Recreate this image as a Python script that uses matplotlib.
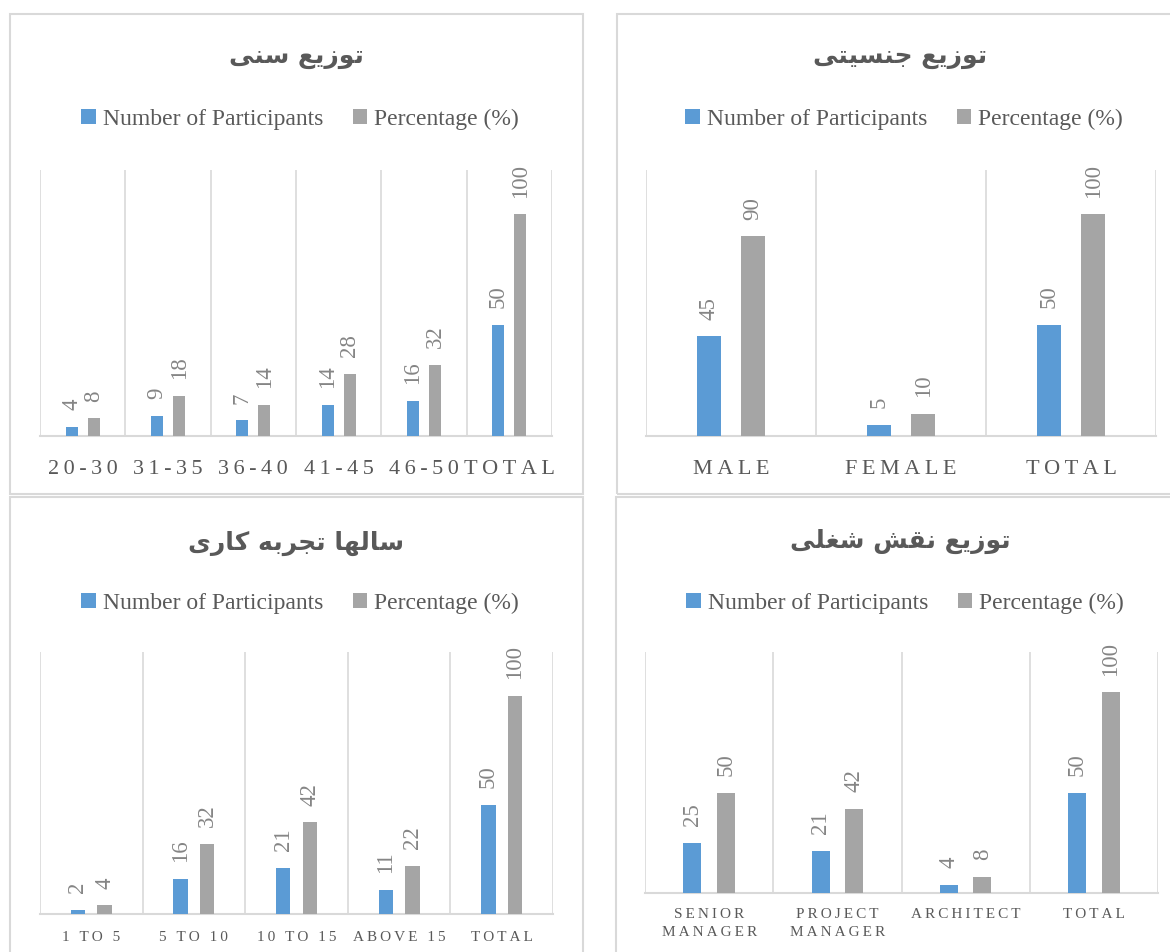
import matplotlib
matplotlib.use("Agg")
import matplotlib.pyplot as plt
from matplotlib.patches import Rectangle, Patch
import numpy as np

# ---------------- data ----------------
age_categories = ['20-30', '31-35', '36-40', '41-45', '46-50', 'TOTAL']
age_counts = [4, 9, 7, 14, 16, 50]
age_pct = [8, 18, 14, 28, 32, 100]

gender_categories = ['MALE', 'FEMALE', 'TOTAL']
gender_counts = [45, 5, 50]
gender_pct = [90, 10, 100]

exp_categories = ['1 TO 5', '5 TO 10', '10 TO 15', 'ABOVE 15', 'TOTAL']
exp_counts = [2, 16, 21, 11, 50]
exp_pct = [4, 32, 42, 22, 100]

role_categories = ['SENIOR\nMANAGER', 'PROJECT\nMANAGER', 'ARCHITECT', 'TOTAL']
role_counts = [25, 21, 4, 50]
role_pct = [50, 42, 8, 100]

title_age = 'توزیع سنی'
title_gender = 'توزیع جنسیتی'
title_exp = 'سالها تجربه کاری'
title_role = 'توزیع نقش شغلی'

series_names = ['Number of Participants', 'Percentage (%)']

# ---------------- simple Persian shaping ----------------
FORMS = {
    'ا': ('\uFE8D', '\uFE8E', None, None),
    'ب': ('\uFE8F', '\uFE90', '\uFE91', '\uFE92'),
    'ت': ('\uFE95', '\uFE96', '\uFE97', '\uFE98'),
    'ج': ('\uFE9D', '\uFE9E', '\uFE9F', '\uFEA0'),
    'ر': ('\uFEAD', '\uFEAE', None, None),
    'ز': ('\uFEAF', '\uFEB0', None, None),
    'س': ('\uFEB1', '\uFEB2', '\uFEB3', '\uFEB4'),
    'ش': ('\uFEB5', '\uFEB6', '\uFEB7', '\uFEB8'),
    'ع': ('\uFEC9', '\uFECA', '\uFECB', '\uFECC'),
    'غ': ('\uFECD', '\uFECE', '\uFECF', '\uFED0'),
    'ق': ('\uFED5', '\uFED6', '\uFED7', '\uFED8'),
    'ل': ('\uFEDD', '\uFEDE', '\uFEDF', '\uFEE0'),
    'ن': ('\uFEE5', '\uFEE6', '\uFEE7', '\uFEE8'),
    'ه': ('\uFEE9', '\uFEEA', '\uFEEB', '\uFEEC'),
    'و': ('\uFEED', '\uFEEE', None, None),
    'ی': ('\uFBFC', '\uFBFD', '\uFBFE', '\uFBFF'),
    'ک': ('\uFB8E', '\uFB8F', '\uFB90', '\uFB91'),
}


def shape(text):
    out = []
    n = len(text)
    for i, ch in enumerate(text):
        if ch not in FORMS:
            out.append(ch)
            continue
        iso, fin, ini, med = FORMS[ch]
        prev = text[i - 1] if i > 0 else None
        nxt = text[i + 1] if i < n - 1 else None
        join_prev = prev in FORMS and FORMS[prev][2] is not None
        join_next = ini is not None and nxt in FORMS
        if join_prev and join_next:
            g = med
        elif join_prev:
            g = fin
        elif join_next:
            g = ini
        else:
            g = iso
        out.append(g)
    return ''.join(out[::-1])


def spaced(s, sep='\u2009'):
    return '\n'.join(sep.join(list(line)) for line in s.split('\n'))


# ---------------- style ----------------
W, H = 1170, 952
BLUE = '#5B9BD5'
GRAY = '#A5A5A5'
GRID = '#D9D9D9'
TXT = '#595959'
LBL = '#858585'
SERIF = 'Liberation Serif'

fig = plt.figure(figsize=(W / 100, H / 100), dpi=100)


def fx(x):
    return x / W


def fy(y):
    return 1 - y / H


def panel_box(x0, y0, x1, y1):
    r = Rectangle((fx(x0), fy(y1)), fx(x1) - fx(x0), fy(y0) - fy(y1),
                  transform=fig.transFigure, fill=False, edgecolor=GRID,
                  linewidth=1.5, zorder=0)
    fig.add_artist(r)


def make_panel(ax_px, cats, counts, pct, title, title_xy, legend_xy,
               cat_fs, cat_pad, val_fs=16.5):
    x0, y0, x1, y1 = ax_px
    ax = fig.add_axes([fx(x0), fy(y1), fx(x1) - fx(x0), fy(y0) - fy(y1)])
    n = len(cats)
    x = np.arange(n)
    w = 0.14
    off = 0.13
    ax.bar(x - off, counts, width=w, color=BLUE, zorder=3)
    ax.bar(x + off, pct, width=w, color=GRAY, zorder=3)
    for xs, vals in ((x - off, counts), (x + off, pct)):
        for xi, v in zip(xs, vals):
            ax.annotate(str(v), (xi, v), xytext=(0, 12),
                        textcoords='offset points', rotation=90, ha='center',
                        va='bottom', fontsize=val_fs, color=LBL, family=SERIF)
    ax.set_xlim(-0.5, n - 0.5)
    ax.set_ylim(0, 120)
    for b in np.arange(n + 1) - 0.5:
        ax.axvline(b, color=GRID, linewidth=1.2, zorder=1)
    for s in ['top', 'left', 'right']:
        ax.spines[s].set_visible(False)
    ax.spines['bottom'].set_color(GRID)
    ax.spines['bottom'].set_linewidth(1.5)
    ax.set_yticks([])
    ax.set_xticks(x)
    ax.set_xticklabels([spaced(c) for c in cats], fontsize=cat_fs,
                       color=TXT, family=SERIF, linespacing=1.45)
    ax.tick_params(axis='x', length=0, pad=cat_pad)
    ax.patch.set_alpha(0)

    fig.text(fx(title_xy[0]), fy(title_xy[1]), shape(title), ha='center',
             va='center', fontsize=18, fontweight='bold', color=TXT,
             family='DejaVu Sans')
    handles = [Patch(facecolor=BLUE), Patch(facecolor=GRAY)]
    fig.legend(handles, series_names, loc='center',
               bbox_to_anchor=(fx(legend_xy[0]), fy(legend_xy[1])),
               ncol=2, frameon=False, handlelength=0.6, handleheight=0.6,
               handletextpad=0.3, columnspacing=1.25,
               prop={'family': SERIF, 'size': 17}, labelcolor=TXT)
    return ax


# panel frames
panel_box(10, 14, 583, 494)
panel_box(617, 14, 1185, 494)
panel_box(10, 497, 583, 962)
panel_box(616, 497, 1185, 962)

make_panel((40, 170, 552, 436), age_categories, age_counts, age_pct,
           title_age, (296, 57), (300, 119), 16, 17)
make_panel((646, 170, 1156, 436), gender_categories, gender_counts, gender_pct,
           title_gender, (900, 57), (904, 119), 16, 17)
make_panel((40, 652, 553, 914), exp_categories, exp_counts, exp_pct,
           title_exp, (296, 543), (300, 603), 11, 12)
make_panel((645, 652, 1158, 893), role_categories, role_counts, role_pct,
           title_role, (900, 541), (905, 603), 11, 11)

fig.savefig('out.png', dpi=100)
